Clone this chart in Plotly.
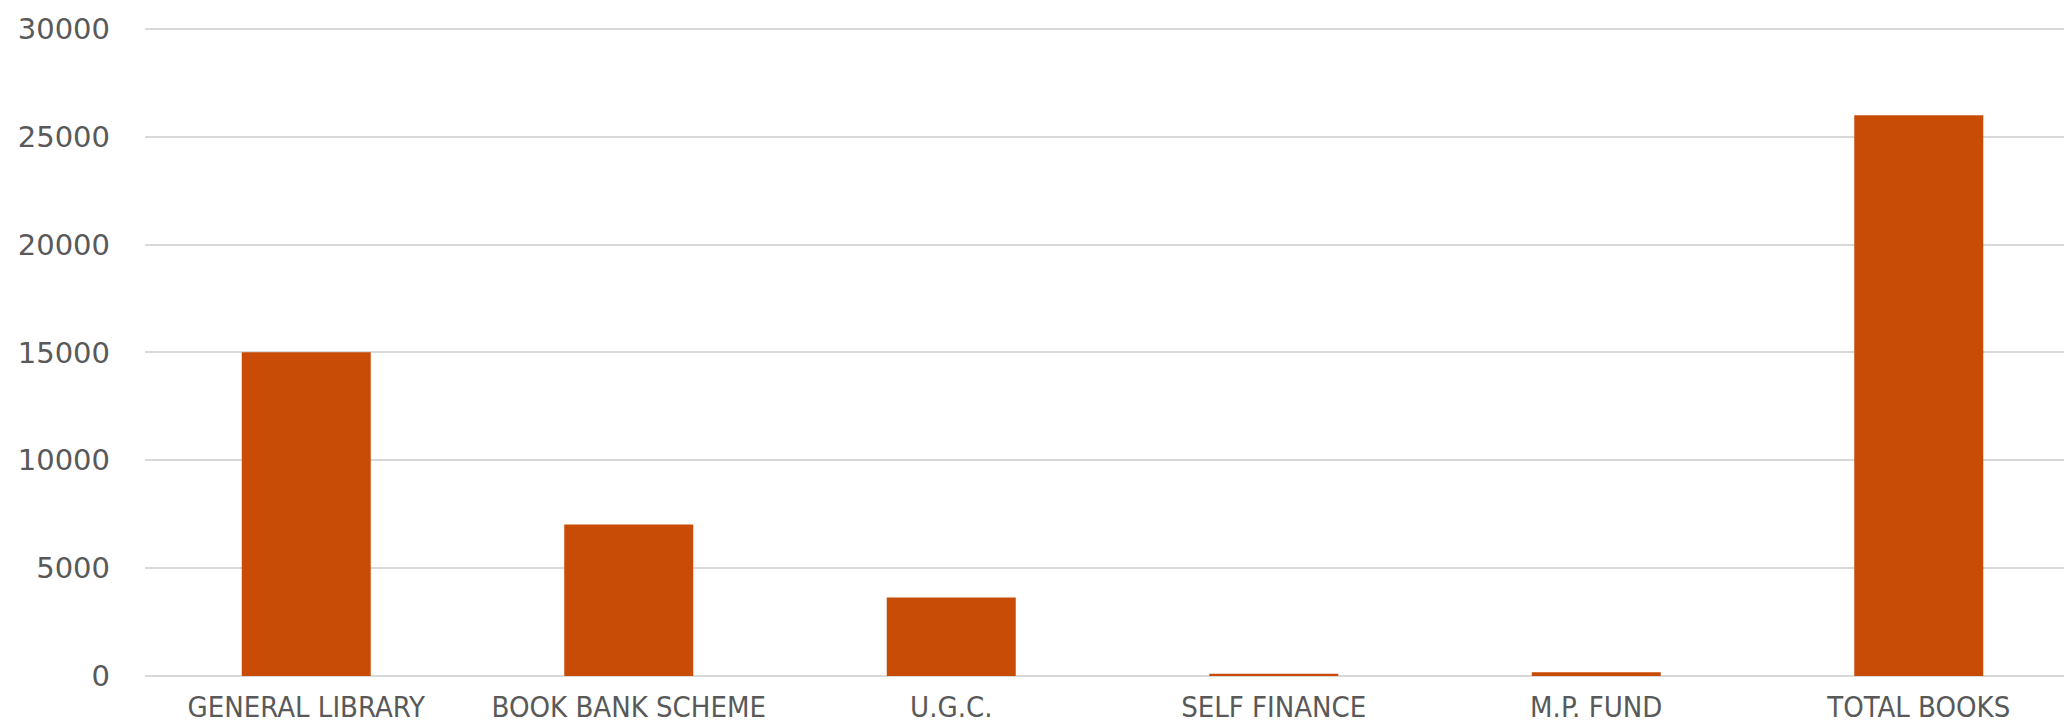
import plotly.graph_objects as go

categories = ["GENERAL LIBRARY", "BOOK BANK SCHEME", "U.G.C.", "SELF FINANCE", "M.P. FUND", "TOTAL BOOKS"]
books = [15010, 7030, 3640, 110, 170, 26000]
y_ticks = [0, 5000, 10000, 15000, 20000, 25000, 30000]

fig = go.Figure(
    go.Bar(
        x=categories,
        y=books,
        marker=dict(color="#C84B06", line=dict(width=0)),
        width=0.4,
    )
)

fig.update_layout(
    width=2072,
    height=726,
    margin=dict(l=137, r=0, t=17, b=58),
    plot_bgcolor="white",
    paper_bgcolor="white",
    showlegend=False,
    bargap=0.6,
)

fig.update_xaxes(
    showgrid=False,
    showline=False,
    zeroline=False,
    tickfont=dict(family="DejaVu Sans Condensed, Liberation Sans Narrow, Arial Narrow, sans-serif", size=29, color="#595959"),
    ticklabelstandoff=11,
)

fig.update_yaxes(
    range=[0, 30185],
    tickvals=y_ticks,
    ticktext=[str(v) for v in y_ticks],
    showgrid=True,
    gridcolor="#D9D9D9",
    gridwidth=1.5,
    zeroline=True,
    zerolinecolor="#D9D9D9",
    zerolinewidth=1.5,
    showline=False,
    tickfont=dict(family="DejaVu Sans, Verdana, sans-serif", size=29, color="#595959"),
    ticklabelstandoff=34,
)

fig.write_html("out.html")
